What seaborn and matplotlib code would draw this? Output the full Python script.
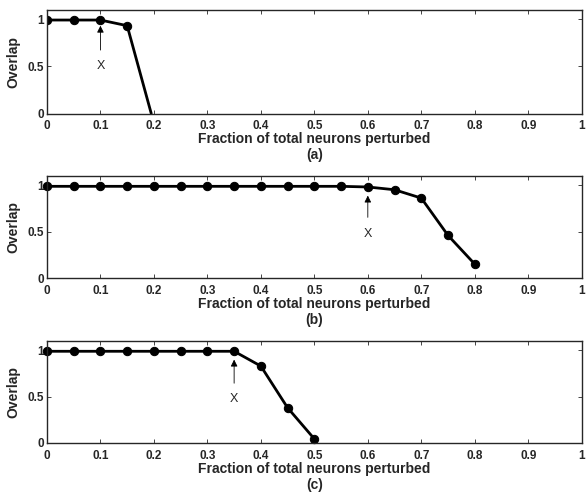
import matplotlib
matplotlib.use("Agg")
import matplotlib.pyplot as plt
import seaborn as sns
import pandas as pd

# Data
x_a = [0.0, 0.05, 0.10, 0.15, 0.195]
y_a = [0.99, 0.99, 0.99, 0.93, 0.0]
x_b = [0.0, 0.05, 0.10, 0.15, 0.20, 0.25, 0.30, 0.35, 0.40, 0.45, 0.50, 0.55, 0.60, 0.65, 0.70, 0.75, 0.80]
y_b = [0.99, 0.99, 0.99, 0.99, 0.99, 0.99, 0.99, 0.99, 0.99, 0.99, 0.99, 0.99, 0.983, 0.953, 0.863, 0.46, 0.15]
x_c = [0.0, 0.05, 0.10, 0.15, 0.20, 0.25, 0.30, 0.35, 0.40, 0.45, 0.50]
y_c = [0.99, 0.99, 0.99, 0.99, 0.99, 0.99, 0.99, 0.99, 0.83, 0.38, 0.044]
panel_labels = ["(a)", "(b)", "(c)"]
arrow_x = [0.10, 0.60, 0.35]
arrow_head_y = [0.93, 0.89, 0.90]
arrow_text_y = [0.50, 0.48, 0.47]
xticks = [0, 0.1, 0.2, 0.3, 0.4, 0.5, 0.6, 0.7, 0.8, 0.9, 1]
xticklabels = ["0", "0.1", "0.2", "0.3", "0.4", "0.5", "0.6", "0.7", "0.8", "0.9", "1"]
yticks = [0, 0.5, 1]
yticklabels = ["0", "0.5", "1"]

sns.set_style("ticks")
plt.rcParams['font.family'] = ['Liberation Sans', 'DejaVu Sans']

fig = plt.figure(figsize=(5.87, 4.97), dpi=100)
positions = [
    [0.080, 0.7716, 0.911, 0.209],
    [0.080, 0.4406, 0.911, 0.205],
    [0.080, 0.1087, 0.911, 0.205],
]
datasets = [(x_a, y_a, [0, 1, 2, 3]), (x_b, y_b, None), (x_c, y_c, None)]

for i, ((xs, ys, mev), pos) in enumerate(zip(datasets, positions)):
    ax = fig.add_axes(pos)
    df = pd.DataFrame({"x": xs, "y": ys})
    sns.lineplot(data=df, x="x", y="y", ax=ax, color="black", linewidth=2,
                 marker="o", markersize=6, markeredgecolor="black",
                 markevery=mev, clip_on=False if mev is None else True)
    ax.set_xlim(0, 1)
    ax.set_ylim(0, 1.1)
    ax.set_xticks(xticks)
    ax.set_xticklabels(xticklabels, fontsize=8.5, fontweight="bold")
    ax.set_yticks(yticks)
    ax.set_yticklabels(yticklabels, fontsize=8.5, fontweight="bold")
    ax.tick_params(direction="in", top=True, right=True, length=3, width=0.6)
    ax.tick_params(axis="x", pad=5)
    ax.tick_params(axis="y", pad=2)
    for s in ax.spines.values():
        s.set_linewidth(1.0)
    ax.set_xlabel("Fraction of total neurons perturbed\n" + panel_labels[i],
                  fontsize=10, fontweight="bold", labelpad=0, linespacing=1.15)
    ax.set_ylabel("Overlap", fontsize=10, fontweight="bold", labelpad=5)
    ax.annotate("X", xy=(arrow_x[i], arrow_head_y[i]),
                xytext=(arrow_x[i], arrow_text_y[i]),
                ha="center", va="center", fontsize=9,
                arrowprops=dict(arrowstyle="-|>", color="black", lw=0.6,
                                mutation_scale=10, shrinkA=5, shrinkB=0))

fig.savefig("out.png", dpi=100)
